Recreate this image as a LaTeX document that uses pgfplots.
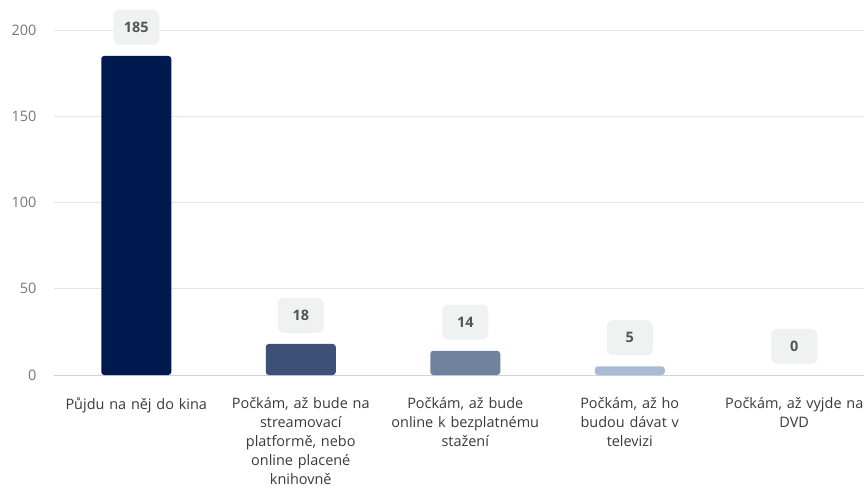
\documentclass[border=0pt]{standalone}
\usepackage{fontspec}
\setmainfont{Open Sans}
\usepackage{pgfplots}
\pgfplotsset{compat=1.18}
\definecolor{barA}{HTML}{001A4F}
\definecolor{barB}{HTML}{3D5075}
\definecolor{barC}{HTML}{71829F}
\definecolor{barD}{HTML}{A9BAD2}
\definecolor{boxgray}{HTML}{F0F1F1}
\definecolor{valtext}{HTML}{555555}
\definecolor{ticktext}{HTML}{777777}
\definecolor{labeltext}{HTML}{3A3A3A}
\definecolor{gridgray}{HTML}{E6E6E6}
\definecolor{baseblue}{HTML}{C9D4EA}
\begin{document}
\begin{tikzpicture}
\useasboundingbox (-54bp,-116bp) rectangle (810bp,375bp);
\begin{axis}[
  scale only axis,
  width=810bp, height=375bp,
  xmin=-0.5, xmax=4.424,
  ymin=0, ymax=217.4,
  clip=false,
  axis line style={draw=none},
  tick style={draw=none},
  ytick={50,100,150,200},
  extra y ticks={0},
  extra y tick style={grid style={draw=baseblue, line width=1bp}},
  ymajorgrids,
  grid style={draw=gridgray, line width=0.8bp},
  /pgf/number format/assume math mode=true,
  yticklabel style={font=\fontsize{14.5}{16}\selectfont, text=ticktext, xshift=-14bp},
  xtick={0,1,2,3,4},
  xticklabels={{Půjdu na něj do kina},{Počkám, až bude na\\streamovací\\platformě, nebo\\online placené\\knihovně},{Počkám, až bude\\online k bezplatnému\\stažení},{Počkám, až ho\\budou dávat v\\televizi},{Počkám, až vyjde na\\DVD}},
  xticklabel style={font=\fontsize{14.5}{19}\selectfont, text=labeltext, text width=180bp, align=center, anchor=north, yshift=-15bp},
  ybar, bar width=70bp, bar shift=0pt,
  nodes near coords,
  every node near coord/.append style={anchor=south, yshift=11bp, fill=boxgray, rounded corners=6bp, minimum width=46bp, minimum height=35bp, text=valtext, font=\fontsize{14.5}{16}\selectfont\bfseries},
]
\addplot[fill=barA, draw=none, rounded corners=3bp] coordinates {(0,185)};
\addplot[fill=barB, draw=none, rounded corners=3bp] coordinates {(1,18)};
\addplot[fill=barC, draw=none, rounded corners=3bp] coordinates {(2,14)};
\addplot[fill=barD, draw=none, rounded corners=3bp] coordinates {(3,5)};
\addplot[fill=none, draw=none] coordinates {(4,0)};
\end{axis}
\end{tikzpicture}
\end{document}
